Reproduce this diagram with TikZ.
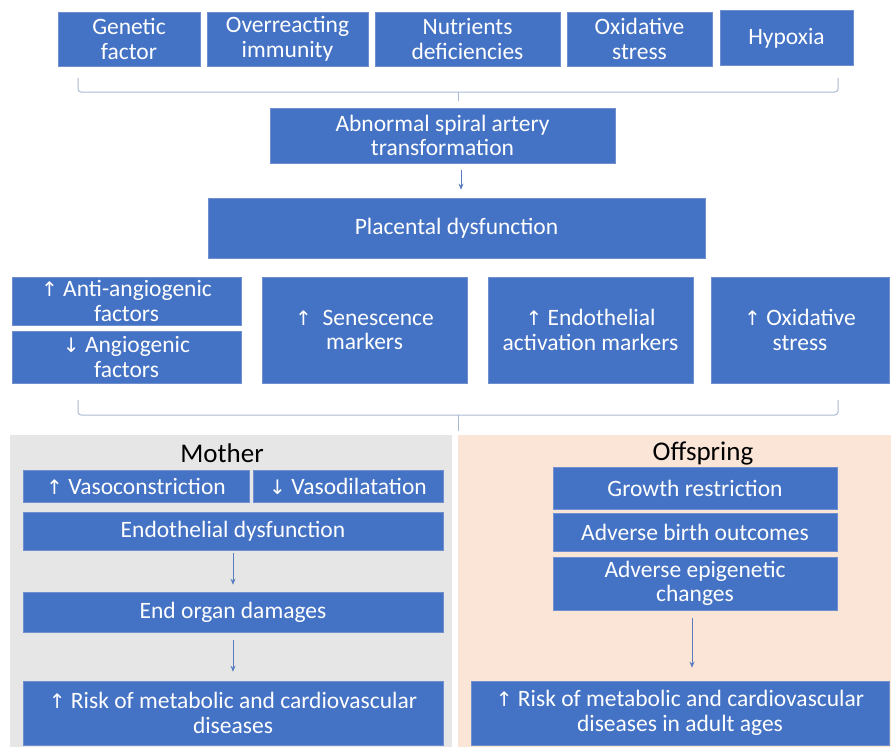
\documentclass[tikz,border=0pt]{standalone}
\usepackage{fontspec}
\setmainfont{Carlito}
\newfontfamily\arrowfont{DejaVu Sans}
\usetikzlibrary{arrows.meta,calc}
\definecolor{boxblue}{HTML}{4472C4}
\definecolor{boxedge}{HTML}{6F8FCE}
\definecolor{panelgray}{HTML}{E7E6E6}
\definecolor{panelpeach}{HTML}{FBE5D6}
\definecolor{bracecol}{HTML}{A9B9D3}
\definecolor{arrcol}{HTML}{5A7DC0}
\newcommand{\upa}{{\arrowfont\fontsize{20}{24}\selectfont ↑}}
\newcommand{\dna}{{\arrowfont\fontsize{20}{24}\selectfont ↓}}
\begin{document}
\begin{tikzpicture}[x=1pt,y=-1pt,
  box/.style={rectangle, fill=boxblue, draw=boxedge, line width=0.6pt, text=white,
    align=center, font=\fontsize{23.5}{24.5}\selectfont, inner sep=0pt},
  panel/.style={rectangle, draw=none, inner sep=0pt},
  paneltitle/.style={font=\fontsize{27}{30}\selectfont, text=black, inner sep=0pt},
  bracepath/.style={draw=bracecol, line width=1pt, rounded corners=3pt},
  arr/.style={draw=arrcol, line width=0.8pt, -{Stealth[length=6pt,width=5pt]}}]
\useasboundingbox (0,0) rectangle (891,747);

% top row
\node[box, minimum width=142, minimum height=54] (gen) at (129,39) {Genetic\\factor};
\node[box, minimum width=161, minimum height=54] (imm) at (287.5,39) {Overreacting\\immunity};
\node[box, minimum width=185, minimum height=54] (nut) at (467.5,39) {Nutrients\\deficiencies};
\node[box, minimum width=145, minimum height=54] (oxi) at (639.5,39) {Oxidative\\stress};
\node[box, minimum width=133, minimum height=55] (hyp) at (786.5,38) {Hypoxia};

% brace 1
\coordinate (b1l) at (78,78);
\coordinate (b1m) at (458,92);
\coordinate (b1r) at (838,78);
\coordinate (b1t) at (458,101);
\draw[bracepath] (b1l) |- (b1m) -| (b1r);
\draw[bracepath] (b1m) -- (b1t);

\node[box, minimum width=345, minimum height=55] (abn) at (442.5,135.5) {Abnormal spiral artery\\transformation};
\node[box, minimum width=497, minimum height=60] (plac) at (456.5,228) {Placental dysfunction};
\coordinate (a1) at (461,0);
\draw[arr, shorten <=7pt, shorten >=8pt] (abn.south -| a1) -- (plac.north -| a1);

% row 3
\node[box, minimum width=229, minimum height=48] (anti) at (126.5,301) {\upa\ Anti-angiogenic\\factors};
\node[box, minimum width=229, minimum height=52] (ang) at (126.5,357) {\dna\ Angiogenic\\factors};
\node[box, minimum width=205, minimum height=106] (sen) at (364.5,330) {\upa\ \ Senescence\\markers};
\node[box, minimum width=205, minimum height=106] (endo) at (590.5,330) {\upa\ Endothelial\\activation markers};
\node[box, minimum width=178, minimum height=106] (oxs) at (800,330) {\upa\ Oxidative\\stress};

% brace 2
\coordinate (b2l) at (78,400);
\coordinate (b2m) at (458,415);
\coordinate (b2r) at (838,400);
\coordinate (b2t) at (458,431);
\draw[bracepath] (b2l) |- (b2m) -| (b2r);
\draw[bracepath] (b2m) -- (b2t);

% panels
\node[panel, fill=panelgray, minimum width=442, minimum height=312] (mpanel) at (231,591) {};
\node[panel, fill=panelpeach, minimum width=433, minimum height=312] (opanel) at (674.5,591) {};
\node[paneltitle] (mtitle) at (222,453) {Mother};
\node[paneltitle] (otitle) at (703,453) {Offspring};

% mother
\node[box, minimum width=226, minimum height=32] (vc) at (136,486) {\upa\ Vasoconstriction};
\node[box, minimum width=190, minimum height=32] (vd) at (348,486) {\dna\ Vasodilatation};
\node[box, minimum width=420, minimum height=38] (ed) at (233,531) {Endothelial dysfunction};
\node[box, minimum width=420, minimum height=40] (eo) at (233,612) {End organ damages};
\node[box, minimum width=420, minimum height=64] (rm) at (233,713) {\upa\ Risk of metabolic and cardiovascular\\diseases};
\draw[arr, shorten <=3pt, shorten >=7pt] (ed.south) -- (eo.north);
\draw[arr, shorten <=8pt, shorten >=9pt] (eo.south) -- (rm.north);

% offspring
\node[box, minimum width=284, minimum height=42] (gr) at (695,488) {Growth restriction};
\node[box, minimum width=284, minimum height=38] (ab) at (695,532) {Adverse birth outcomes};
\node[box, minimum width=284, minimum height=53] (ae) at (695,583.5) {Adverse epigenetic\\changes};
\node[box, minimum width=418, minimum height=64] (ro) at (680,713) {\upa\ Risk of metabolic and cardiovascular\\diseases in adult ages};
\draw[arr, shorten <=8pt, shorten >=13pt] ([xshift=-3pt]ae.south) -- ([xshift=-3pt]ae.south |- ro.north);
\end{tikzpicture}
\end{document}
